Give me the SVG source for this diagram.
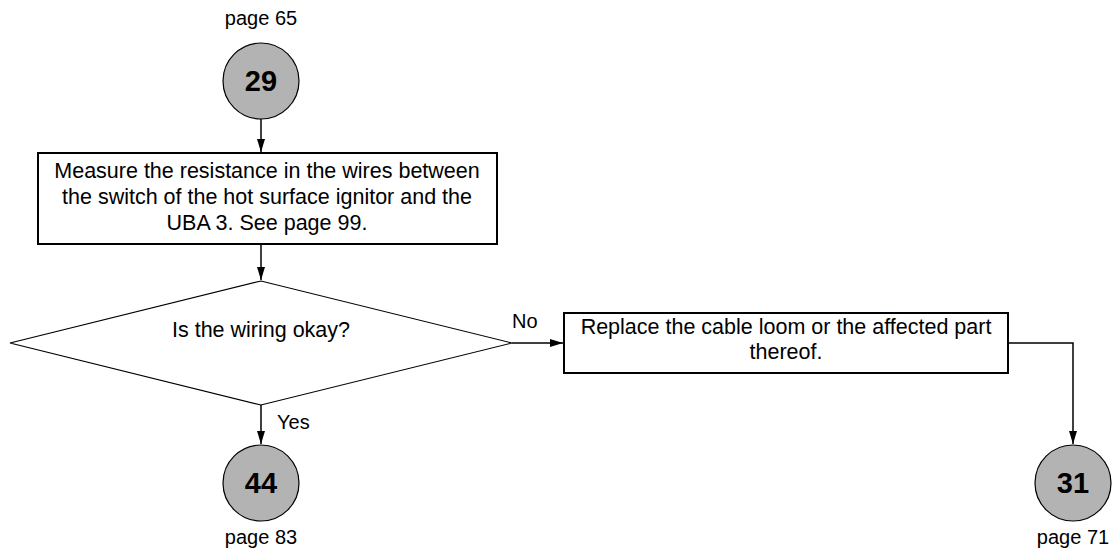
<svg xmlns="http://www.w3.org/2000/svg" width="1115" height="550" viewBox="0 0 1115 550">
<style>
text{font-family:"Liberation Sans",Arial,sans-serif;font-size:21.5px;fill:#000}
.lbl{font-size:20px}
.num{font-size:29px;font-weight:bold}
.box{fill:#fff;stroke:#000;stroke-width:2}
.dia{fill:#fff;stroke:#000;stroke-width:1.2}
.circ{fill:#b3b3b3;stroke:#000;stroke-width:1.2}
.con{fill:none;stroke:#000;stroke-width:1.5}
</style>
<defs>
<marker id="ah" markerWidth="13" markerHeight="8" refX="13" refY="4" orient="auto" markerUnits="userSpaceOnUse">
<path d="M0,0 L13,4 L0,8 Z" fill="#000"/>
</marker>
</defs>
<g id="connectors">
<line class="con" x1="261" y1="119" x2="261" y2="152" marker-end="url(#ah)"/>
<line class="con" x1="261" y1="244" x2="261" y2="280" marker-end="url(#ah)"/>
<line class="con" x1="512" y1="343" x2="563" y2="343" marker-end="url(#ah)"/>
<line class="con" x1="261" y1="405" x2="261" y2="444" marker-end="url(#ah)"/>
<polyline class="con" points="1008,343 1073,343 1073,444" marker-end="url(#ah)"/>
<text class="lbl" x="512" y="328">No</text>
<text class="lbl" x="277" y="429">Yes</text>
</g>
<g id="n29">
<text class="lbl" x="261" y="25" text-anchor="middle">page 65</text>
<circle class="circ" cx="261" cy="81" r="38"/>
<text class="num" x="261" y="91" text-anchor="middle">29</text>
</g>
<g id="measure">
<rect class="box" x="38" y="153" width="459" height="91"/>
<text x="267" y="178" text-anchor="middle">Measure the resistance in the wires between</text>
<text x="267" y="204" text-anchor="middle">the switch of the hot surface ignitor and the</text>
<text x="267" y="230" text-anchor="middle">UBA 3. See page 99.</text>
</g>
<g id="decision">
<polygon class="dia" points="10,343 261,281 512,343 261,405"/>
<text x="261" y="337" text-anchor="middle">Is the wiring okay?</text>
</g>
<g id="replace">
<rect class="box" x="564" y="313" width="444" height="60"/>
<text x="786" y="334" text-anchor="middle">Replace the cable loom or the affected part</text>
<text x="786" y="359" text-anchor="middle">thereof.</text>
</g>
<g id="n44">
<circle class="circ" cx="261" cy="483" r="38"/>
<text class="num" x="261" y="493" text-anchor="middle">44</text>
<text class="lbl" x="261" y="544" text-anchor="middle">page 83</text>
</g>
<g id="n31">
<circle class="circ" cx="1073" cy="483" r="38"/>
<text class="num" x="1073" y="493" text-anchor="middle">31</text>
<text class="lbl" x="1073" y="544" text-anchor="middle">page 71</text>
</g>
</svg>
